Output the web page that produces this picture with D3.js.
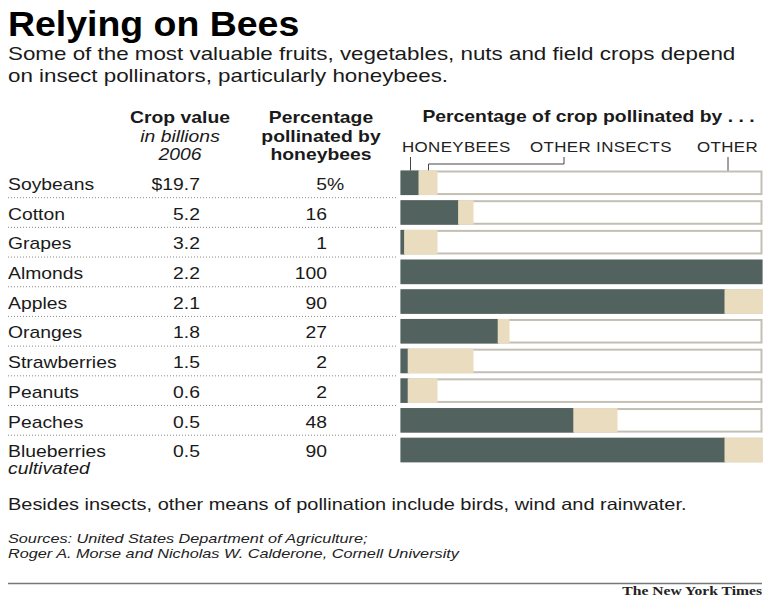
<!DOCTYPE html>
<html>
<head>
<meta charset="utf-8">
<script src="https://cdn.jsdelivr.net/npm/d3@7"></script>
<style>
  body { margin: 0; background: #fff; }
  svg { display: block; font-family: "Liberation Sans", Arial, Helvetica, sans-serif; }
</style>
</head>
<body>
<svg id="chart" width="772" height="606"></svg>
<script>
// data
const crops = ["Soybeans", "Cotton", "Grapes", "Almonds", "Apples", "Oranges", "Strawberries", "Peanuts", "Peaches", "Blueberries"];
const cropValue = [19.7, 5.2, 3.2, 2.2, 2.1, 1.8, 1.5, 0.6, 0.5, 0.5];
const honeybees = [5, 16, 1, 100, 90, 27, 2, 2, 48, 90];
const otherInsects = [5, 4, 9, 0, 10, 3, 18, 8, 12, 10];
const otherMeans = [90, 80, 90, 0, 0, 70, 80, 90, 40, 0];
const seriesNames = ["HONEYBEES", "OTHER INSECTS", "OTHER"];

const svg = d3.select("#chart");
const dark = "#52635f", beige = "#e9dcbf", ink = "#1a1a1a";
const SX = 1.21; // the type in the original is set a bit wide

// text helper: anchored at x,y and stretched horizontally
function txt(parent, x, y, str, o = {}) {
  return parent.append("text")
    .attr("transform", `translate(${x},${y}) scale(${o.sx || SX},1)`)
    .attr("text-anchor", o.anchor || "start")
    .attr("fill", o.fill || ink)
    .style("font-size", (o.size || 16) + "px")
    .style("font-weight", o.bold ? "bold" : "normal")
    .style("font-style", o.italic ? "italic" : "normal")
    .text(str);
}

// title + intro
txt(svg, 8, 36, "Relying on Bees", {size: 35, bold: true, sx: 1.07, fill: "#000"});
txt(svg, 8, 60, "Some of the most valuable fruits, vegetables, nuts and field crops depend", {size: 18.5});
txt(svg, 8, 82, "on insect pollinators, particularly honeybees.", {size: 18.5});

// scales
const x = d3.scaleLinear().domain([0, 100]).range([401.5, 761.5]);
const y = d3.scaleBand().domain(crops).range([171.5, 461.3]).paddingInner(0.24).paddingOuter(0);

// column headers
const hdr = (cx, lines) => {
  lines.forEach((l, i) => txt(svg, cx, 123 + i * 18.5, l.t, {anchor: "middle", bold: !l.italic, italic: l.italic}));
};
hdr(180, [{t: "Crop value"}, {t: "in billions", italic: true}, {t: "2006", italic: true}]);
hdr(321, [{t: "Percentage"}, {t: "pollinated by"}, {t: "honeybees"}]);

txt(svg, 588.5, 122, "Percentage of crop pollinated by . . .", {anchor: "middle", bold: true});

// legend labels
const legX = [402, 530, 697];
seriesNames.forEach((n, i) => {
  txt(svg, legX[i], 152, n, {size: 14, fill: "#222"}).style("letter-spacing", "0.3px");
});

// leader lines to first bar
const top0 = y(crops[0]);
const lead = svg.append("g").attr("stroke", "#444").attr("stroke-width", 1).attr("fill", "none");
lead.append("line").attr("x1", x(honeybees[0] / 2)).attr("x2", x(honeybees[0] / 2)).attr("y1", 157).attr("y2", top0);
lead.append("path").attr("d", `M${x(honeybees[0] + otherInsects[0] / 2)},${top0} V164 H564 V157`);
lead.append("line").attr("x1", 728).attr("x2", 728).attr("y1", 157).attr("y2", top0);

// rows
const rows = svg.append("g").selectAll("g").data(crops).join("g")
  .attr("transform", d => `translate(0,${y(d)})`);

rows.each(function(d, i) {
  const g = d3.select(this);
  txt(g, 8, 18.5, d);
  txt(g, 200, 18.5, (i === 0 ? "$" : "") + d3.format(".1f")(cropValue[i]), {anchor: "end"});
  txt(g, 327, 18.5, honeybees[i], {anchor: "end"});
  if (i === 0) txt(g, 327, 18.5, "%");
});

// dotted separators
rows.filter((d, i) => i < crops.length - 1).append("line")
  .attr("x1", 8).attr("x2", 398)
  .attr("y1", y.bandwidth() + 3.6).attr("y2", y.bandwidth() + 3.6)
  .attr("stroke", "#8a8a8a").attr("stroke-width", 1).attr("stroke-dasharray", "1,2");

// bar outline
rows.append("rect").attr("x", x(0)).attr("width", x(100) - x(0))
  .attr("y", 0).attr("height", y.bandwidth())
  .attr("fill", "#fff").attr("stroke", "#c4bfb4").attr("stroke-width", 2);

// stacked segments
const stack = crops.map((c, i) => [
  {x0: 0, x1: honeybees[i], c: dark},
  {x0: honeybees[i], x1: honeybees[i] + otherInsects[i], c: beige}
]);
rows.selectAll("rect.seg").data((d, i) => stack[i].filter(s => s.x1 > s.x0)).join("rect")
  .attr("class", "seg")
  .attr("x", s => x(s.x0) - 1).attr("width", s => x(s.x1) - x(s.x0) + (s.x1 >= 100 ? 2 : 1))
  .attr("y", -1).attr("height", y.bandwidth() + 2)
  .attr("fill", s => s.c);

txt(svg, 8, y(crops[crops.length - 1]) + 35, "cultivated", {italic: true});

// footnotes
txt(svg, 8, 510, "Besides insects, other means of pollination include birds, wind and rainwater.", {size: 16.5});
txt(svg, 8, 543, "Sources: United States Department of Agriculture;", {size: 13, italic: true, fill: "#222", sx: 1.25});
txt(svg, 8, 558, "Roger A. Morse and Nicholas W. Calderone, Cornell University", {size: 13, italic: true, fill: "#222", sx: 1.25});

svg.append("line").attr("x1", 8).attr("x2", 762).attr("y1", 583.5).attr("y2", 583.5)
  .attr("stroke", "#777").attr("stroke-width", 1.5);
txt(svg, 762, 595, "The New York Times", {anchor: "end", size: 12.5, bold: true, sx: 1.25, fill: "#222"})
  .style("font-family", "'Liberation Serif', 'DejaVu Serif', serif");
</script>
</body>
</html>
